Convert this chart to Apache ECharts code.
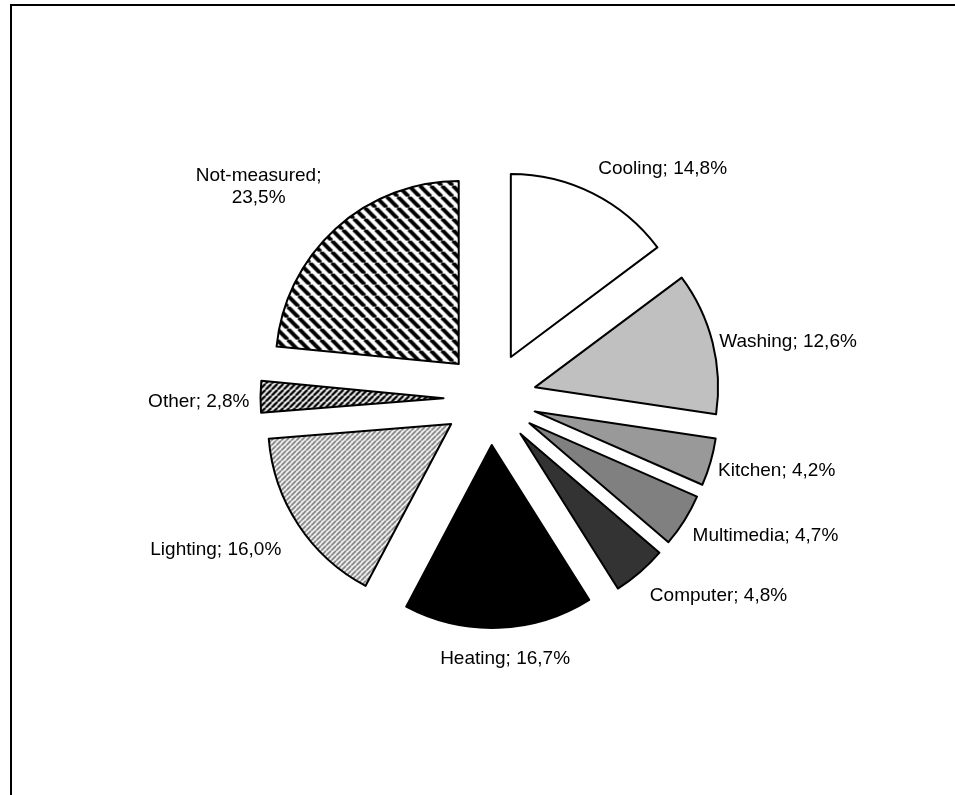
<!DOCTYPE html>
<html>
<head>
<meta charset="utf-8">
<script src="https://cdn.jsdelivr.net/npm/echarts@6/dist/echarts.min.js"></script>
<style>
  html, body { margin: 0; padding: 0; background: #fff; }
  #chart { width: 955px; height: 795px; }
</style>
</head>
<body>
<div id="chart"></div>
<script>
// Share of household electricity use by end-use category (%)
const categories = ['Cooling', 'Washing', 'Kitchen', 'Multimedia', 'Computer', 'Heating', 'Lighting', 'Other', 'Not-measured'];
const shares = [14.8, 12.6, 4.2, 4.7, 4.8, 16.7, 16.0, 2.8, 23.5];
// labels that break after the semicolon
const wrappedLabels = ['Not-measured'];

// Small per-label nudges [dx, dy, align] applied after the pie's own outside layout
const labelNudges = [
  [-5, -14],
  [-10, 2],
  [-9, 5],
  [-7, 9],
  [-3, 15],
  [1, 19, 'center'],
  [-2, 18],
  [6, 5],
  [-64, -33, 'center']
];

// Hatch tiles used as slice fills
function stripeTile(size, lineWidth, ink, paper, direction) {
  const c = document.createElement('canvas');
  c.width = size; c.height = size;
  const g = c.getContext('2d');
  g.fillStyle = paper; g.fillRect(0, 0, size, size);
  g.strokeStyle = ink; g.lineWidth = lineWidth;
  g.beginPath();
  for (let k = -1; k <= 1; k++) {
    if (direction === 'down') { // "\" stripes
      g.moveTo(k * size, 0); g.lineTo(k * size + size, size);
    } else {                    // "/" stripes
      g.moveTo(k * size, size); g.lineTo(k * size + size, 0);
    }
  }
  g.stroke();
  return { image: c, repeat: 'repeat' };
}

const fills = [
  '#ffffff',
  '#c0c0c0',
  '#999999',
  '#808080',
  '#333333',
  '#000000',
  stripeTile(5, 1.9, '#7a7a7a', '#ffffff', 'up'),
  stripeTile(6, 2.4, '#000000', '#ffffff', 'up'),
  stripeTile(11, 4, '#000000', '#ffffff', 'down')
];

const pieData = categories.map((name, i) => ({
  name: name,
  value: shares[i],
  selected: true,
  itemStyle: { color: fills[i] },
  select: { itemStyle: { color: fills[i] } }
}));

function fmt(v) { return v.toFixed(1).replace('.', ',') + '%'; }

const chart = echarts.init(document.getElementById('chart'), null, { renderer: 'canvas' });
chart.setOption({
  animation: false,
  backgroundColor: '#ffffff',
  graphic: [{
    type: 'rect',
    shape: { x: 11, y: 5, width: 1200, height: 1200 },
    style: { fill: 'none', stroke: '#000', lineWidth: 2 },
    silent: true
  }],
  series: [{
    type: 'pie',
    center: [490, 398.5],
    radius: 183,
    startAngle: 90,
    clockwise: true,
    selectedMode: 'multiple',
    selectedOffset: 46.5,
    avoidLabelOverlap: false,
    emphasis: { disabled: true },
    itemStyle: { borderColor: '#000', borderWidth: 2 },
    select: { itemStyle: { borderColor: '#000', borderWidth: 2 } },
    label: {
      show: true,
      position: 'outside',
      fontFamily: 'Liberation Sans, Arial, sans-serif',
      fontSize: 19,
      lineHeight: 22,
      color: '#000',
      formatter: p => p.name + ';' + (wrappedLabels.includes(p.name) ? '\n' : ' ') + fmt(p.value)
    },
    labelLine: { show: false, length: 12, length2: 0 },
    labelLayout: p => {
      const n = labelNudges[p.dataIndex];
      const out = { dx: n[0], dy: n[1] };
      if (n[2]) out.align = n[2];
      return out;
    },
    data: pieData
  }]
});
</script>
</body>
</html>
